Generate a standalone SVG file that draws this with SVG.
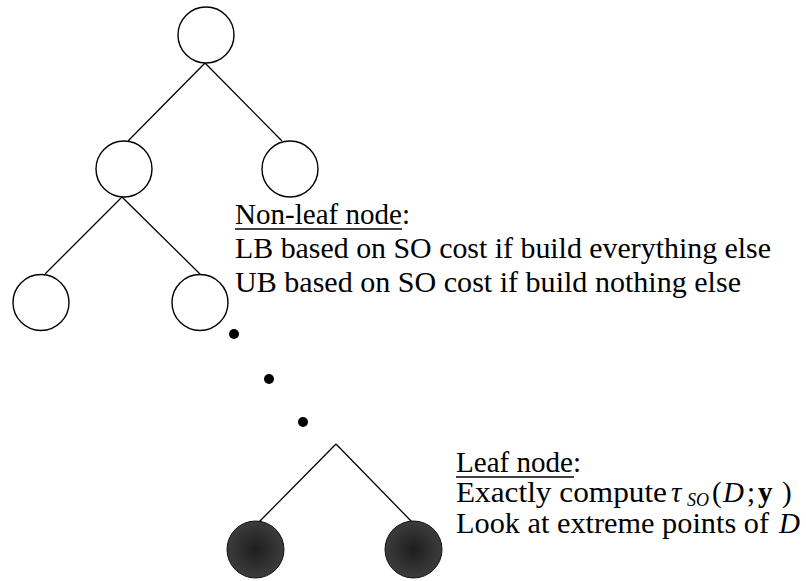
<svg xmlns="http://www.w3.org/2000/svg" width="806" height="581" viewBox="0 0 806 581">
<style>
.node{fill:#fff;stroke:#000;stroke-width:1.4}
.leaf{fill:url(#dark);stroke:#111;stroke-width:1}
.edge{stroke:#000;stroke-width:1.3;fill:none}
.dot{fill:#000}
text{font-family:'Liberation Serif','DejaVu Serif','Times New Roman',serif;font-size:29px;fill:#000}
.it{font-style:italic}
.bf{font-weight:bold}
.ul{stroke:#000;stroke-width:1.3}
</style>
<defs>
<radialGradient id="dark" cx="50%" cy="50%" r="50%">
<stop offset="0" stop-color="#1e1e1e"/>
<stop offset="1" stop-color="#3c3c3c"/>
</radialGradient>
</defs>
<rect width="806" height="581" fill="#fff"/>
<g id="connectors">
<line class="edge" x1="205" y1="63" x2="128" y2="141"/>
<line class="edge" x1="205" y1="63" x2="282" y2="141"/>
<line class="edge" x1="122" y1="197" x2="45" y2="274"/>
<line class="edge" x1="122" y1="197" x2="200" y2="274"/>
<line class="edge" x1="336" y1="444" x2="259" y2="522"/>
<line class="edge" x1="336" y1="444" x2="412" y2="522"/>
<circle class="dot" cx="234" cy="334" r="5"/>
<circle class="dot" cx="269" cy="379" r="5"/>
<circle class="dot" cx="303" cy="422" r="5"/>
</g>
<g id="root"><circle class="node" cx="206" cy="35" r="28"/></g>
<g id="n-left"><circle class="node" cx="124" cy="169" r="28"/></g>
<g id="n-right"><circle class="node" cx="290" cy="169" r="28"/></g>
<g id="n-ll"><circle class="node" cx="41" cy="302.5" r="28"/></g>
<g id="n-lr"><circle class="node" cx="200" cy="302.5" r="28"/></g>
<g id="leaf-left"><circle class="leaf" cx="255.5" cy="549.5" r="28.5"/></g>
<g id="leaf-right"><circle class="leaf" cx="413.5" cy="549.5" r="28.5"/></g>
<g id="nonleaf-label">
<text x="235" y="224" textLength="175" lengthAdjust="spacingAndGlyphs">Non-leaf node:</text>
<line class="ul" x1="235" y1="229" x2="402" y2="229"/>
<text x="235" y="258" textLength="536" lengthAdjust="spacingAndGlyphs">LB based on SO cost if build everything else</text>
<text x="235" y="292" textLength="506" lengthAdjust="spacingAndGlyphs">UB based on SO cost if build nothing else</text>
</g>
<g id="leaf-label">
<text x="456" y="472" textLength="125" lengthAdjust="spacingAndGlyphs">Leaf node:</text>
<line class="ul" x1="456" y1="477" x2="574" y2="477"/>
<text x="456" y="502" textLength="211" lengthAdjust="spacingAndGlyphs">Exactly compute</text>
<text y="502"><tspan class="it" x="671">τ</tspan><tspan class="it" x="687" dy="4" style="font-size:18px">SO</tspan><tspan x="712" dy="-4">(</tspan><tspan class="it" x="723">D</tspan><tspan x="747">;</tspan><tspan class="bf" x="758">y</tspan><tspan x="782">)</tspan></text>
<text x="456" y="533" textLength="313" lengthAdjust="spacingAndGlyphs">Look at extreme points of</text>
<text class="it" x="779" y="533">D</text>
</g>
</svg>
